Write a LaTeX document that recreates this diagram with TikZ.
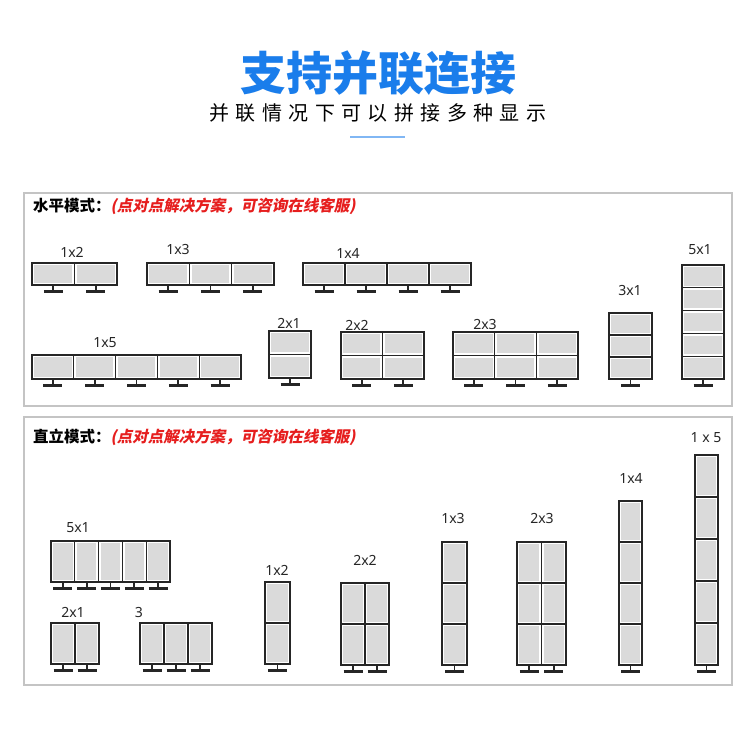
\documentclass[tikz,border=0pt]{standalone}
\usepackage{fontspec}
\setmainfont{Noto Sans}
\newfontfamily\cjk{Noto Sans CJK SC}
\newfontfamily\cjkspaced{Noto Sans CJK SC}[LetterSpace=32]
\newfontfamily\cjkslant{Noto Sans CJK SC}[FakeSlant=0.2]
\usetikzlibrary{positioning}
\definecolor{TitleBlue}{HTML}{1A7DEB}
\definecolor{NoteRed}{HTML}{E61E1E}
\definecolor{FrameGray}{HTML}{C4C4C4}
\definecolor{ScreenGray}{HTML}{DADADA}
\definecolor{EdgeBlack}{HTML}{262626}

% one wall of screens: [extra outline], x, y, cols, rows, cell width, cell height
\newcommand{\screenwall}[7][]{%
  \foreach \c in {1,...,#4}{%
    \foreach \r in {1,...,#5}{%
      \draw[screen] ({#2+(\c-1)*#6},{#3+(\r-1)*#7}) rectangle ++(#6,#7);
      \fill[ScreenGray] ({#2+(\c-1)*#6+2.2},{#3+(\r-1)*#7+2.2}) rectangle ++({#6-4.4},{#7-4.4});
    }
    \draw[stand] ({#2+(\c-0.5)*#6},{#3+#5*#7}) -- ++(0,5.5);
    \draw[standbase] ({#2+(\c-0.5)*#6-9.5},{#3+#5*#7+6.5}) -- ++(19,0);
  }
  \draw[screen,fill=none,#1] (#2,#3) rectangle ++({#4*#6},{#5*#7});
}

\begin{document}
\begin{tikzpicture}[
    x=1pt, y=-1pt,
    screen/.style={draw=EdgeBlack, line width=1.3pt, fill=white},
    stand/.style={draw=EdgeBlack, line width=1.8pt},
    standbase/.style={draw=EdgeBlack, line width=3pt},
    panel/.style={draw=FrameGray, line width=1.3pt},
    size/.style={font=\fontsize{14}{15}\selectfont, text=EdgeBlack, inner sep=0pt},
    header/.style={font=\fontsize{15.5}{17}\selectfont, anchor=west, inner sep=0pt}
]
  \useasboundingbox (0,0) rectangle (750,750);
  \fill[white] (0,0) rectangle (750,750);

  % =========================================================================
  % TITULO
  % =========================================================================
  \node[font=\cjk\bfseries\fontsize{46}{50}\selectfont, text=TitleBlue] (t_main) at (378, 73) {支持并联连接};
  \node[font=\cjkspaced\fontsize{20}{22}\selectfont, text=black] (t_sub) at (378, 113) {并联情况下可以拼接多种显示};
  \coordinate (u_l) at (350, 137);
  \coordinate (u_r) at (405, 137);
  \draw[line width=2pt, color=TitleBlue!55] (u_l) -- (u_r);

  % =========================================================================
  % PAINEL SUPERIOR: HORIZONTAL
  % =========================================================================
  \draw[panel] (24, 193) rectangle (732, 406);
  \node[header] (h_top) at (33, 206) {\cjk\bfseries 水平模式：\cjkslant\bfseries\color{NoteRed}(点对点解决方案，可咨询在线客服)};

  \screenwall{32}{263}{2}{1}{42.5}{22}
  \screenwall{147}{263}{3}{1}{42.3}{22}
  \screenwall{303}{263}{4}{1}{42}{22}
  \screenwall{32}{355}{5}{1}{41.8}{24}
  \screenwall{269}{331}{1}{2}{42}{23.5}
  \screenwall{341}{332}{2}{2}{41.5}{23.5}
  \screenwall{453}{332}{3}{2}{41.7}{23.5}
  \screenwall{609}{313}{1}{3}{43}{22}
  \screenwall{682}{265}{1}{5}{42}{22.8}

  \node[size] (l_h12) at (72, 252) {1x2};
  \node[size] (l_h13) at (178, 249) {1x3};
  \node[size] (l_h14) at (348, 253) {1x4};
  \node[size] (l_h15) at (105, 343) {1x5};
  \node[size] (l_h21) at (289, 323) {2x1};
  \node[size] (l_h22) at (357, 325) {2x2};
  \node[size] (l_h23) at (485, 324) {2x3};
  \node[size] (l_h31) at (630, 290) {3x1};
  \node[size] (l_h51) at (700, 250) {5x1};

  % =========================================================================
  % PAINEL INFERIOR: VERTICAL
  % =========================================================================
  \draw[panel] (24, 417) rectangle (732, 685);
  \node[header] (h_bot) at (33, 437) {\cjk\bfseries 直立模式：\cjkslant\bfseries\color{NoteRed}(点对点解决方案，可咨询在线客服)};

  \screenwall{51}{541}{5}{1}{23.8}{41}
  \screenwall{51}{623}{2}{1}{24}{41}
  \screenwall{140}{623}{3}{1}{24}{41}
  \screenwall{265}{582}{1}{2}{25}{41}
  \screenwall{341}{583}{2}{2}{24}{41}
  \screenwall{442}{542}{1}{3}{25}{41}
  \screenwall[line width=2.4pt]{517}{542}{2}{3}{24.5}{41}
  \screenwall{619}{501}{1}{4}{23}{41}
  \screenwall{695}{455}{1}{5}{23}{42}

  \node[size] (l_v51) at (78, 528) {5x1};
  \node[size] (l_v21) at (73, 612) {2x1};
  \node[size] (l_v3) at (139, 612) {3};
  \node[size] (l_v12) at (277, 570) {1x2};
  \node[size] (l_v22) at (365, 560) {2x2};
  \node[size] (l_v13) at (453, 518) {1x3};
  \node[size] (l_v23) at (542, 518) {2x3};
  \node[size] (l_v14) at (631, 478) {1x4};
  \node[size] (l_v15) at (706, 438) {1 x 5};

\end{tikzpicture}
\end{document}
